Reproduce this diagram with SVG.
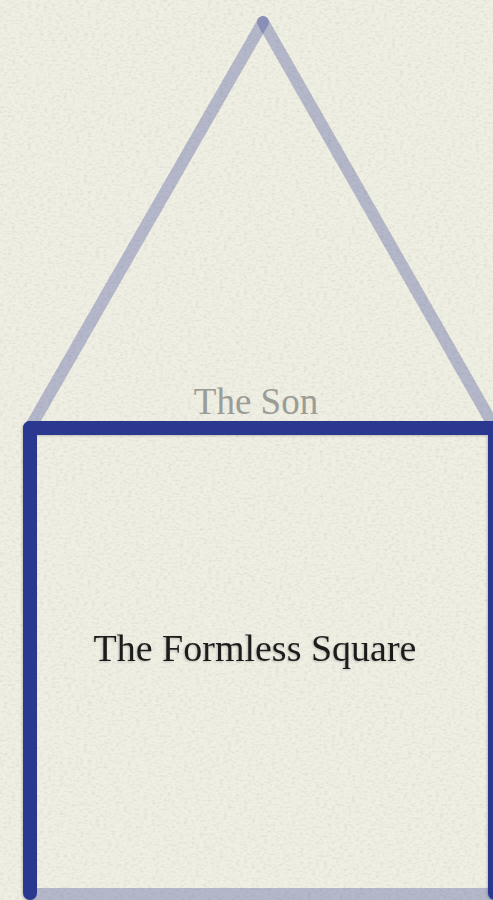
<svg xmlns="http://www.w3.org/2000/svg" width="493" height="900" viewBox="0 0 493 900">
  <defs>
    <filter id="paper" x="0" y="0" width="100%" height="100%">
      <feTurbulence type="fractalNoise" baseFrequency="0.25 0.45" numOctaves="3" seed="4" result="n"/>
      <feColorMatrix in="n" type="matrix" values="0 0 0 0 0.55  0 0 0 0 0.55  0 0 0 0 0.5  0 0 0 0.7 -0.3" result="m"/>
      <feComposite in="m" in2="SourceGraphic" operator="in" result="t"/>
      <feBlend in="SourceGraphic" in2="t" mode="multiply"/>
    </filter>
    <filter id="shadow" x="-10%" y="-10%" width="120%" height="120%">
      <feDropShadow dx="-1" dy="1" stdDeviation="1.2" flood-color="#000" flood-opacity="0.2"/>
    </filter>
  </defs>
  <style>
    .faint { stroke: #2b3990; stroke-opacity: 0.3; stroke-width: 12; stroke-linecap: round; fill: none; }
    .bold { stroke: #2b3990; stroke-width: 14; stroke-linecap: round; fill: none; }
    .label { font-family: "Liberation Serif", "Times New Roman", serif; text-anchor: middle; }
  </style>
  <rect width="493" height="900" fill="#f0efe4" filter="url(#paper)"/>
  <g id="connectors">
    <line class="faint" x1="263" y1="22" x2="30" y2="428"/>
    <line class="faint" x1="263" y1="22" x2="495" y2="428"/>
    <line class="faint" x1="30" y1="894" x2="495" y2="894"/>
  </g>
  <g id="son">
    <text class="label" x="256" y="414" font-size="37" fill="#9c9c96">The Son</text>
  </g>
  <g id="square" filter="url(#shadow)">
    <line class="bold" x1="30" y1="428" x2="495" y2="428"/>
    <line class="bold" x1="30" y1="428" x2="30" y2="893"/>
    <line class="bold" x1="495" y1="428" x2="495" y2="893"/>
    <text class="label" x="255" y="661" font-size="38" fill="#1e1e1e">The Formless Square</text>
  </g>
</svg>
